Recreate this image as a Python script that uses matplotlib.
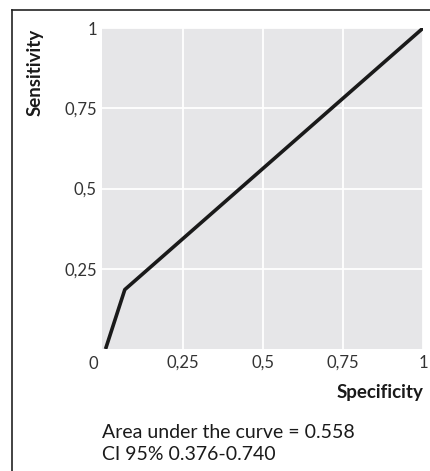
import matplotlib
matplotlib.use("Agg")
import matplotlib.pyplot as plt
from matplotlib.lines import Line2D

# ROC curve points (1 - specificity on x, sensitivity on y)
spec = [0.01, 0.07, 1.0]
sens = [0.0, 0.185, 1.0]

ticks = [0, 0.25, 0.5, 0.75, 1]
tick_labels = ["0", "0,25", "0,5", "0,75", "1"]

auc_text = "Area under the curve = 0.558\nCI 95% 0.376-0.740"

plt.rcParams['font.family'] = ['Lato', 'DejaVu Sans']

fig = plt.figure(figsize=(4.3, 4.71), dpi=100)
ax = fig.add_axes([0.238, 0.259, 0.746, 0.6815])

ax.set_facecolor('#e6e6e8')
ax.plot(spec, sens, color='#1a1a1a', linewidth=2.6, solid_capstyle='butt', zorder=3)

ax.set_xlim(0, 1)
ax.set_ylim(0, 1)
ax.set_xticks(ticks[1:])
ax.set_xticklabels(tick_labels[1:])
ax.set_yticks(ticks[1:])
ax.set_yticklabels(tick_labels[1:])
ax.grid(True, color='white', linewidth=1.3)
ax.set_axisbelow(True)
ax.tick_params(length=0, labelsize=12, labelcolor='#333333', pad=4)
for s in ax.spines.values():
    s.set_visible(False)

# shared "0" at the corner
ax.text(-0.028, -0.022, "0", transform=ax.transAxes, ha='center', va='top',
        fontsize=12, color='#333333')

fig.text(0.081, 0.94, "Sensitivity", rotation=90, ha='center', va='top',
         fontsize=13.5, fontweight='bold', color='#1a1a1a')
fig.text(0.984, 0.166, "Specificity", ha='right', va='center',
         fontsize=13.5, fontweight='bold', color='#1a1a1a')
fig.text(0.238, 0.058, auc_text, ha='left', va='center', fontsize=14,
         color='#1a1a1a', linespacing=1.35)

# outer frame, only left and top edges show
fig.add_artist(Line2D([0.028, 0.028], [0, 0.979], color='#222222', linewidth=1.2))
fig.add_artist(Line2D([0.028, 1], [0.979, 0.979], color='#222222', linewidth=1.2))

fig.savefig("out.png", dpi=100)
